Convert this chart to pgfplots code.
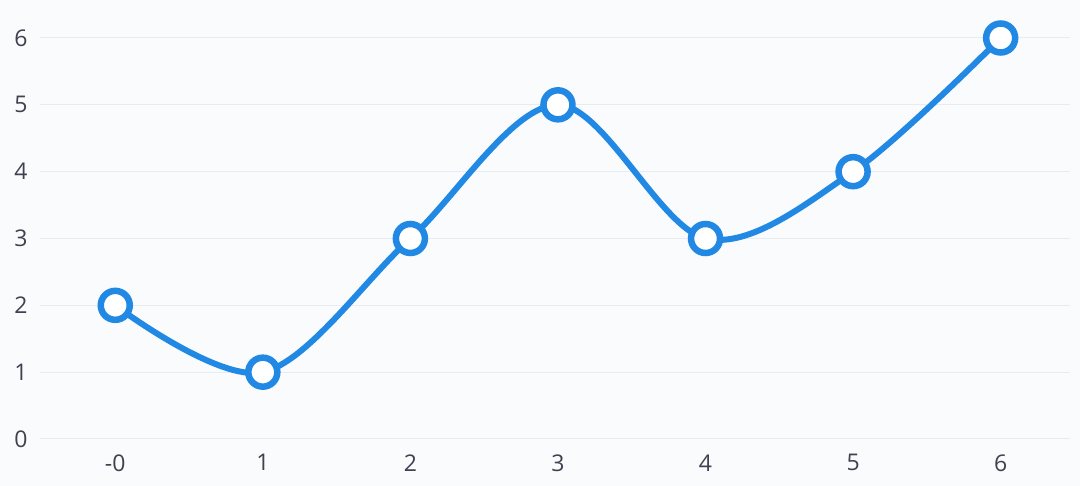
\documentclass[border=0pt]{standalone}
\usepackage{pgfplots}
\pgfplotsset{compat=1.18}
\usepackage{fontspec}
\setmainfont{Open Sans}
\definecolor{bg}{HTML}{F9FBFD}
\definecolor{linecol}{HTML}{2189E3}
\definecolor{gridcol}{HTML}{E6ECF2}
\definecolor{textcol}{HTML}{3E4150}
\begin{document}
\begin{tikzpicture}
\fill[bg] (-40pt,-47pt) rectangle (1040pt,439pt);
\begin{axis}[
    at={(0,0)}, anchor=south west,
    scale only axis,
    width=1030pt, height=401pt,
    xmin=-0.51, xmax=6.47,
    ymin=0, ymax=6,
    axis line style={draw=none},
    major tick length=0pt,
    xtick={0,1,2,3,4,5,6},
    xticklabels={-0,1,2,3,4,5,6},
    ytick={0,1,2,3,4,5,6},
    ymajorgrids,
    grid style={gridcol, line width=1pt},
    ticklabel style={font=\fontsize{23}{27}\selectfont, text=textcol},
    yticklabel style={xshift=-9pt},
    xticklabel style={yshift=-12pt},
    /pgf/number format/assume math mode=true,
    clip=false,
]
\addplot[linecol, line width=6pt, smooth, tension=0.55,
    mark=*, mark size=14.5pt,
    mark options={fill=white, draw=linecol, line width=6.5pt}]
    coordinates {(0,2)(1,1)(2,3)(3,5)(4,3)(5,4)(6,6)};
\end{axis}
\end{tikzpicture}
\end{document}
